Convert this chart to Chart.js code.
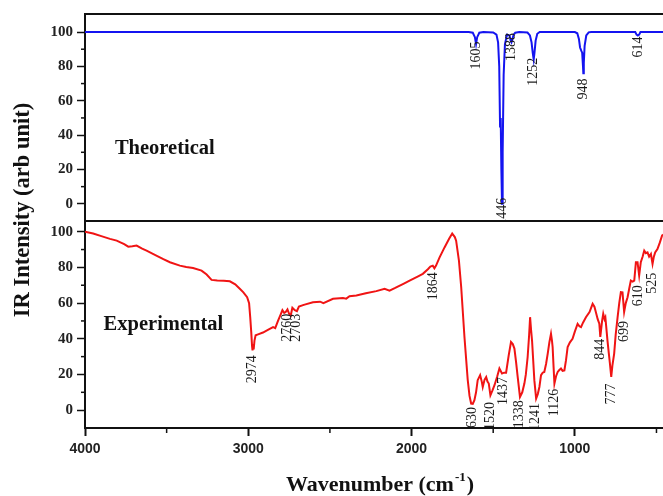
<!DOCTYPE html>
<html>
<head>
<meta charset="utf-8">
<script src="https://cdn.jsdelivr.net/npm/chart.js@4/dist/chart.umd.min.js"></script>
<style>
  html, body { margin: 0; padding: 0; background: #fff; }
</style>
</head>
<body>
<canvas id="irChart" width="663" height="496"></canvas>
<script>
// axis ranges / ticks
const xMin = 460, xMax = 4000;
const xMajorTicks = [4000, 3000, 2000, 1000];
const xMinorTicks = [3500, 2500, 1500, 500];
const yMajorTicks = [0, 20, 40, 60, 80, 100];
const yMinorTicks = [10, 30, 50, 70, 90];

// theoretical spectrum (blue)
const theoWn  = [4000, 1650, 1625, 1612, 1605, 1598, 1585, 1560, 1500, 1480, 1470, 1463, 1458, 1454, 1450, 1446, 1442, 1436, 1428, 1415, 1400, 1393, 1388, 1383, 1375, 1365, 1340, 1290, 1275, 1265, 1258, 1252, 1247, 1240, 1230, 1215, 1000, 985, 975, 968, 960, 955, 950, 948, 945, 940, 930, 915, 900, 630, 622, 614, 606, 598, 460];
const theoInt = [100, 100, 99.6, 97, 93, 97, 99.6, 100, 99.8, 98.5, 94, 80, 45, 50, 20, 0, 30, 75, 93, 98.5, 98, 95, 94, 95.5, 98.5, 99.6, 100, 99.7, 98, 94, 88, 84, 88, 95, 99, 100, 100, 99.3, 96, 91, 89, 88, 80, 76, 82, 92, 98, 99.8, 100, 100, 98.5, 98, 98.5, 100, 100];

// experimental spectrum (red)
const expWn  = [4000, 3950, 3900, 3847, 3806, 3760, 3735, 3710, 3684, 3650, 3623, 3560, 3520, 3480, 3419, 3380, 3338, 3286, 3255, 3225, 3190, 3150, 3113, 3080, 3052, 3030, 3007, 2995, 2988, 2982, 2977, 2974, 2970, 2967, 2962, 2955, 2940, 2910, 2880, 2848, 2835, 2818, 2800, 2791, 2780, 2771, 2760, 2750, 2740, 2730, 2715, 2702, 2690, 2660, 2604, 2560, 2540, 2481, 2420, 2400, 2380, 2338, 2280, 2216, 2165, 2135, 2100, 2050, 2012, 1960, 1931, 1900, 1885, 1870, 1860, 1850, 1829, 1798, 1770, 1751, 1735, 1727, 1710, 1696, 1676, 1656, 1645, 1635, 1625, 1615, 1605, 1595, 1580, 1570, 1564, 1553, 1543, 1535, 1527, 1517, 1505, 1492, 1475, 1462, 1446, 1433, 1421, 1405, 1391, 1380, 1370, 1360, 1350, 1336, 1322, 1309, 1300, 1289, 1280, 1274, 1268, 1262, 1255, 1248, 1237, 1227, 1217, 1207, 1197, 1187, 1176, 1166, 1156, 1146, 1140, 1136, 1130, 1125, 1115, 1105, 1095, 1085, 1075, 1064, 1054, 1044, 1030, 1014, 1000, 983, 972, 962, 950, 932, 910, 891, 880, 871, 860, 850, 844, 833, 826, 818, 813, 806, 800, 792, 785, 777, 770, 759, 750, 738, 728, 718, 708, 698, 688, 677, 667, 657, 646, 636, 626, 616, 606, 596, 585, 575, 565, 555, 545, 534, 524, 516, 508, 494, 479, 466, 460];
const expInt = [100, 99, 97.5, 96, 95, 93, 91.6, 91.8, 92.2, 90.5, 89.4, 86.5, 84.6, 82.9, 81, 80.2, 79.7, 78.2, 76, 73, 72.6, 72.5, 72.2, 70.5, 68, 66, 63.3, 60, 52, 44, 36, 33.5, 37, 34, 39, 42, 42.5, 43.5, 45, 46.5, 46, 50, 54, 56, 54.5, 55, 56.5, 54, 53, 57.4, 56, 55.5, 58, 59, 60.5, 60.8, 60, 62.4, 62.8, 62.5, 63.8, 64.2, 65.5, 66.7, 68, 67, 68.5, 70.8, 72.6, 75, 76.4, 79, 80.5, 81, 79.5, 81, 85.5, 91.2, 96, 99, 97, 95, 84, 69, 41, 17, 8, 3.7, 3.5, 5.6, 10, 16.8, 19.6, 16, 13, 17, 18.6, 16, 14.9, 8.4, 11, 14, 19, 23.3, 20.5, 21, 21, 30.7, 38.2, 37, 34.5, 27, 18.6, 7.4, 10, 14.9, 20, 29.8, 42, 52.1, 45, 39, 28, 16.8, 6.5, 9, 13, 19.6, 21, 21.4, 26, 31.7, 38, 42.8, 39, 35.4, 24, 14.9, 19, 21.4, 22.5, 23.3, 22, 22.3, 28, 35.4, 38, 40, 44, 48.4, 47, 46.5, 49, 52.1, 55, 59.6, 58, 54.9, 51, 48.4, 41, 50, 54, 51, 52, 45, 39, 32, 26, 18.6, 25, 31.7, 42, 52.1, 60, 66.1, 66, 55, 60, 63.3, 68, 72.6, 72, 72.6, 82.9, 82.9, 75.4, 82.9, 86, 89.4, 88, 88.4, 86, 87.5, 82, 86, 88.4, 90.3, 94, 97.8, 98.5];

// peak labels: wavenumber and the intensity where the label text starts (top end)
const theoPeakWn  = [1605, 1446, 1388, 1252, 948, 614];
const theoPeakTop = [94.5, 3.5, 99.5, 85, 73, 97.4];
const expPeakWn  = [2974, 2760, 2703, 1864, 1630, 1520, 1437, 1338, 1241, 1126, 844, 777, 699, 610, 525];
const expPeakTop = [30.7, 54, 54, 77.3, 1.8, 4.6, 18.6, 5.6, 4, 12, 40, 15, 50, 70, 77];

const serif = "'Liberation Serif', 'Times New Roman', serif";
const sans = "'Liberation Sans', Arial, sans-serif";

function toPts(xs, ys) {
  return xs.map((x, i) => ({ x: x, y: ys[i] }));
}

// frame lines, minor ticks, peak labels and titles
const decorPlugin = {
  id: 'decor',
  afterDatasetsDraw(chart) {
    const ctx = chart.ctx;
    const area = chart.chartArea;
    const xs = chart.scales.x, yT = chart.scales.yTop, yB = chart.scales.yBot;
    ctx.save();
    ctx.strokeStyle = '#111';
    // top border + divider
    ctx.lineWidth = 2;
    [yT.top, yB.top].forEach(py => {
      ctx.beginPath();
      ctx.moveTo(area.left - 1, py);
      ctx.lineTo(area.right, py);
      ctx.stroke();
    });
    // minor ticks
    ctx.lineWidth = 1.5;
    [yT, yB].forEach(s => {
      yMinorTicks.forEach(v => {
        const py = s.getPixelForValue(v);
        ctx.beginPath();
        ctx.moveTo(area.left - 4, py);
        ctx.lineTo(area.left, py);
        ctx.stroke();
      });
    });
    xMinorTicks.forEach(v => {
      const px = xs.getPixelForValue(v);
      ctx.beginPath();
      ctx.moveTo(px, area.bottom);
      ctx.lineTo(px, area.bottom + 5);
      ctx.stroke();
    });

    // peak labels, rotated, clipped to their panel
    ctx.font = '14px ' + serif;
    ctx.fillStyle = '#1a1a1a';
    function drawPeaks(scale, wns, tops) {
      ctx.save();
      ctx.beginPath();
      ctx.rect(area.left, scale.top + 1, area.right - area.left, scale.bottom - scale.top - 2);
      ctx.clip();
      wns.forEach((wn, i) => {
        ctx.save();
        ctx.translate(xs.getPixelForValue(wn), scale.getPixelForValue(tops[i]));
        ctx.rotate(-Math.PI / 2);
        ctx.textAlign = 'right';
        ctx.textBaseline = 'middle';
        ctx.fillText(String(wn), 0, 0);
        ctx.restore();
      });
      ctx.restore();
    }
    drawPeaks(yT, theoPeakWn, theoPeakTop);
    drawPeaks(yB, expPeakWn, expPeakTop);

    // panel names
    ctx.font = 'bold 20.5px ' + serif;
    ctx.fillStyle = '#111';
    ctx.textAlign = 'left';
    ctx.textBaseline = 'middle';
    ctx.fillText('Theoretical', xs.getPixelForValue(3817), yT.getPixelForValue(32));
    ctx.fillText('Experimental', xs.getPixelForValue(3886), yB.getPixelForValue(48));

    // y title
    ctx.save();
    ctx.translate(23, 210);
    ctx.rotate(-Math.PI / 2);
    ctx.font = 'bold 22.5px ' + serif;
    ctx.textAlign = 'center';
    ctx.textBaseline = 'middle';
    ctx.fillText('IR Intensity (arb unit)', 0, 0);
    ctx.restore();

    // x title with superscript
    const mainFont = 'bold 22px ' + serif;
    const supFont = 'bold 13px ' + serif;
    ctx.font = mainFont;
    const w1 = ctx.measureText('Wavenumber (cm').width;
    const w3 = ctx.measureText(')').width;
    ctx.font = supFont;
    const w2 = ctx.measureText('-1').width + 2;
    let x0 = 380 - (w1 + w2 + w3) / 2;
    const base = 491;
    ctx.textBaseline = 'alphabetic';
    ctx.textAlign = 'left';
    ctx.font = mainFont;
    ctx.fillText('Wavenumber (cm', x0, base);
    ctx.font = supFont;
    ctx.fillText('-1', x0 + w1 + 1, base - 10);
    ctx.font = mainFont;
    ctx.fillText(')', x0 + w1 + w2, base);
    ctx.restore();
  }
};

function yAxis(min, max, weight) {
  return {
    type: 'linear',
    position: 'left',
    stack: 'panels',
    stackWeight: 1,
    weight: weight,
    min: min,
    max: max,
    afterBuildTicks: s => { s.ticks = yMajorTicks.map(v => ({ value: v })); },
    afterFit: s => { s.width = 85; },
    grid: { display: true, drawOnChartArea: false, tickLength: 8, tickWidth: 1.5, tickColor: '#111' },
    border: { display: true, color: '#111', width: 2 },
    ticks: { font: { family: serif, size: 15, weight: 'bold' }, color: '#222', padding: 4, callback: v => String(v) }
  };
}

const ctx = document.getElementById('irChart');
new Chart(ctx, {
  type: 'line',
  data: {
    datasets: [
      { label: 'Theoretical', data: toPts(theoWn, theoInt), yAxisID: 'yTop', xAxisID: 'x',
        borderColor: '#1414f0', borderWidth: 2, pointRadius: 0, tension: 0, fill: false },
      { label: 'Experimental', data: toPts(expWn, expInt), yAxisID: 'yBot', xAxisID: 'x',
        borderColor: '#f01414', borderWidth: 2, pointRadius: 0, tension: 0, fill: false }
    ]
  },
  options: {
    responsive: false,
    animation: false,
    layout: { padding: { top: 14, right: 0, bottom: 0, left: 0 } },
    plugins: { legend: { display: false }, tooltip: { enabled: false } },
    scales: {
      x: {
        type: 'linear',
        position: 'bottom',
        reverse: true,
        min: xMin,
        max: xMax,
        afterBuildTicks: s => { s.ticks = xMajorTicks.map(v => ({ value: v })); },
        afterFit: s => { s.height = 68; },
        grid: { display: true, drawOnChartArea: false, tickLength: 8, tickWidth: 2, tickColor: '#111' },
        border: { display: true, color: '#111', width: 2 },
        ticks: { font: { family: sans, size: 14, weight: 'bold' }, color: '#222', padding: 5, maxRotation: 0, callback: v => String(v) }
      },
      yBot: yAxis(-10, 106, 1),
      yTop: yAxis(-10, 110.5, 2)
    }
  },
  plugins: [decorPlugin]
});
</script>
</body>
</html>
